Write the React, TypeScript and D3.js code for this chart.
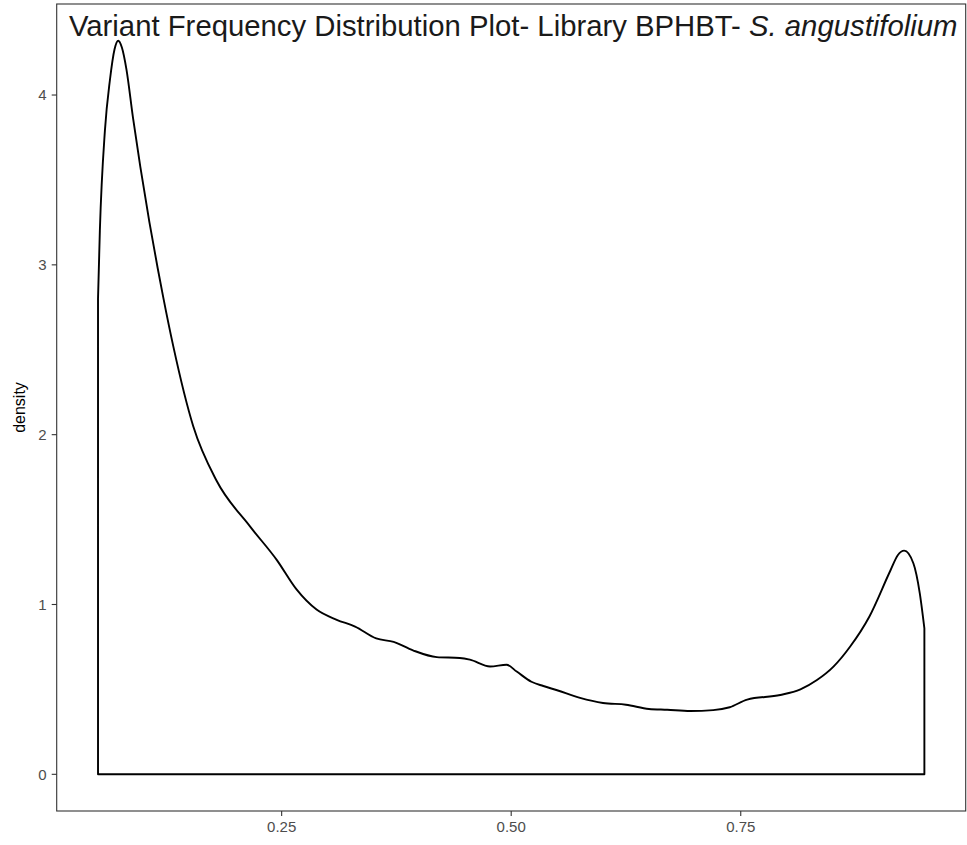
import React from "react";
import * as d3 from "d3";

const freqX: number[] = [
  0.05, 0.052, 0.0575, 0.063, 0.068, 0.072, 0.076, 0.081, 0.088, 0.096, 0.106, 0.115,
  0.121, 0.132, 0.1537, 0.179, 0.2155, 0.245, 0.266, 0.288, 0.31, 0.33, 0.353, 0.372,
  0.393, 0.419, 0.444, 0.455, 0.477, 0.495, 0.506, 0.522, 0.535, 0.55, 0.575, 0.6,
  0.625, 0.65, 0.67, 0.695, 0.72, 0.738, 0.757, 0.793, 0.815, 0.833, 0.851, 0.869,
  0.89, 0.913, 0.921, 0.928, 0.938, 0.945, 0.95,
];
const densityY: number[] = [
  2.8, 3.2, 3.79, 4.09, 4.27, 4.32, 4.28, 4.15, 3.87, 3.58, 3.25, 2.98,
  2.81, 2.52, 2.05, 1.73, 1.46, 1.26, 1.09, 0.97, 0.91, 0.87, 0.8, 0.78,
  0.73, 0.69, 0.685, 0.675, 0.635, 0.645, 0.605, 0.545, 0.52, 0.495, 0.45, 0.42,
  0.41, 0.385, 0.38, 0.373, 0.378, 0.395, 0.44, 0.467, 0.5, 0.555, 0.634, 0.751,
  0.928, 1.2, 1.29, 1.317, 1.243, 1.066, 0.86,
];
const xTicks: number[] = [0.25, 0.5, 0.75];
const yTicks: number[] = [0, 1, 2, 3, 4];
const titleMain = "Variant Frequency Distribution Plot- Library BPHBT- ";
const titleItalic = "S. angustifolium";
const yLabel = "density";

export default function App() {
  const W = 967, H = 845;
  const left = 56.7, right = 965.7, top = 4, bottom = 811;
  const xMin = 0.05, xMax = 0.95;
  const xPad = (xMax - xMin) * 0.05;
  const yMaxD = d3.max(densityY) as number;
  const yPad = yMaxD * 0.05;
  const x = d3.scaleLinear().domain([xMin - xPad, xMax + xPad]).range([left, right]);
  const y = d3.scaleLinear().domain([-yPad, yMaxD + yPad]).range([bottom, top]);
  const pts = freqX.map((v, i) => [v, densityY[i]] as [number, number]);
  const area = d3
    .area<[number, number]>()
    .x((d) => x(d[0]))
    .y0(() => y(0))
    .y1((d) => y(d[1]))
    .curve(d3.curveMonotoneX);
  const font = "'Liberation Sans', Arial, Helvetica, sans-serif";
  return (
    <svg
      width={W}
      height={H}
      style={{ position: "absolute", left: 0, top: 0, background: "#fff" }}
    >
      <rect x={0} y={0} width={W} height={H} fill="#fff" />
      <path d={area(pts) || ""} fill="none" stroke="#000" strokeWidth={1.9} strokeLinejoin="round" />
      <rect
        x={left}
        y={top}
        width={right - left}
        height={bottom - top}
        fill="none"
        stroke="#333333"
        strokeWidth={1.1}
      />
      {yTicks.map((t) => (
        <g key={"y" + t}>
          <line x1={left - 5} x2={left} y1={y(t)} y2={y(t)} stroke="#333333" strokeWidth={1.1} />
          <text
            x={left - 10}
            y={y(t)}
            dy="0.35em"
            textAnchor="end"
            fontFamily={font}
            fontSize={15}
            fill="#4d4d4d"
          >
            {t}
          </text>
        </g>
      ))}
      {xTicks.map((t) => (
        <g key={"x" + t}>
          <line x1={x(t)} x2={x(t)} y1={bottom} y2={bottom + 5} stroke="#333333" strokeWidth={1.1} />
          <text
            x={x(t)}
            y={bottom + 16}
            dy="0.35em"
            textAnchor="middle"
            fontFamily={font}
            fontSize={15}
            fill="#4d4d4d"
          >
            {d3.format(".2f")(t)}
          </text>
        </g>
      ))}
      <text
        transform={`translate(19.5,${(top + bottom) / 2}) rotate(-90)`}
        dy="0.35em"
        textAnchor="middle"
        fontFamily={font}
        fontSize={16}
        fill="#000"
      >
        {yLabel}
      </text>
      <text
        x={(left + right) / 2 + 2}
        y={36}
        textAnchor="middle"
        fontFamily={font}
        fontSize={29.3}
        fill="#1a1a1a"
      >
        {titleMain}
        <tspan fontStyle="italic">{titleItalic}</tspan>
      </text>
    </svg>
  );
}
